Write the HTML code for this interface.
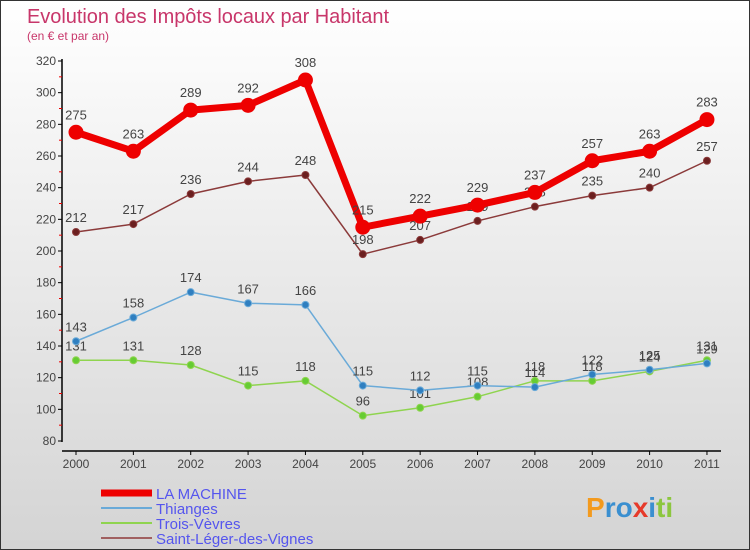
<!DOCTYPE html>
<html><head><meta charset="utf-8"><style>
body{margin:0}
#c{width:750px;height:550px;position:relative;overflow:hidden;box-sizing:border-box;border:1px solid #333;background:linear-gradient(#fff,#d4d4d4);font-family:"Liberation Sans",sans-serif}
text{font-family:"Liberation Sans",sans-serif}
</style></head><body>
<div id="c">
<svg id="s" width="750" height="550">
<text x="26" y="22" font-size="20" fill="#c8366a" textLength="362">Evolution des Impôts locaux par Habitant</text>
<text x="26" y="39" font-size="12" fill="#c8366a">(en € et par an)</text>
<g id="axes"></g><g id="series"></g><g id="legend"></g>
<text x="585" y="516" font-size="28" font-weight="bold"><tspan fill="#f39a1e">P</tspan><tspan fill="#3a8fd0">ro</tspan><tspan fill="#e63a2a">x</tspan><tspan fill="#3a8fd0">i</tspan><tspan fill="#8cc63f">ti</tspan></text>
</svg></div>
<script>
const years=["2000","2001","2002","2003","2004","2005","2006","2007","2008","2009","2010","2011"];
const yTicks=[80,100,120,140,160,180,200,220,240,260,280,300,320];
const laMachine=[275,263,289,292,308,215,222,229,237,257,263,283];
const thianges=[143,158,174,167,166,115,112,115,114,122,125,129];
const troisVevres=[131,131,128,115,118,96,101,108,118,118,124,131];
const saintLeger=[212,217,236,244,248,198,207,219,228,235,240,257];
const NS="http://www.w3.org/2000/svg";
const X=i=>75+i*57.36, Y=v=>440-(v-80)*380/240;
function mk(t,a,p){const e=document.createElementNS(NS,t);for(const k in a)e.setAttribute(k,a[k]);p.appendChild(e);return e;}
const ax=document.getElementById('axes');
let l=mk('line',{x1:61,y1:58,x2:61,y2:441,stroke:'#000','stroke-width':1.5},ax);


l=mk('line',{x1:61,y1:450,x2:720,y2:450,stroke:'#000','stroke-width':1.5},ax);


yTicks.forEach((v,i)=>{
 mk('line',{x1:57,y1:Y(v),x2:61,y2:Y(v),stroke:'#000'},ax);
 if(i<yTicks.length-1) mk('line',{x1:58,y1:Y(v+10),x2:61,y2:Y(v+10),stroke:'#e00'},ax);
 const t=mk('text',{x:55,y:Y(v)+4,'font-size':12,fill:'#444','text-anchor':'end'},ax);t.textContent=v;
 
 
});
years.forEach((y,i)=>{
 mk('line',{x1:X(i),y1:450,x2:X(i),y2:454,stroke:'#000'},ax);
 const t=mk('text',{x:X(i),y:467,'font-size':12,fill:'#444','text-anchor':'middle'},ax);t.textContent=y;
 
 
});
const sg=document.getElementById('series');
function series(data,color,dot,w,r,name){
 const g=mk('g',{},sg);
 
 
 const p=mk('polyline',{points:data.map((v,i)=>X(i)+','+Y(v)).join(' '),fill:'none',stroke:color,'stroke-width':w,'stroke-linejoin':'round'},g);
 
 
 data.forEach((v,i)=>{
  const c=mk('circle',{cx:X(i),cy:Y(v),r:r,fill:dot,stroke:color,'stroke-width':1},g);
  
  
  const t=mk('text',{x:X(i),y:Y(v)-10-(r>5?3:0),'font-size':13,fill:'#444','text-anchor':'middle'},g);t.textContent=v;
  
  
 });
}
series(saintLeger,'#8b3a3a','#6b1f1f',1.5,3.5,'saint-leger');
series(troisVevres,'#8fd44f','#66cc33',1.5,3.5,'trois-vevres');
series(thianges,'#6aaad8','#2f7fc0',1.5,3.5,'thianges');
series(laMachine,'#ee0000','#ee0000',7,7,'la-machine');
const lg=document.getElementById('legend');
[['LA MACHINE','#ee0000',7],['Thianges','#6aaad8',2],['Trois-Vèvres','#8fd44f',2],['Saint-Léger-des-Vignes','#a06060',2]].forEach((d,i)=>{
 const y=492+i*15;
 const g=mk('g',{},lg);
 
 
 mk('line',{x1:100,y1:y,x2:151,y2:y,stroke:d[1],'stroke-width':d[2]},g);
 const t=mk('text',{x:155,y:y+6,'font-size':15,fill:'#5555ee'},g);t.textContent=d[0];
});
</script>
</body></html>
